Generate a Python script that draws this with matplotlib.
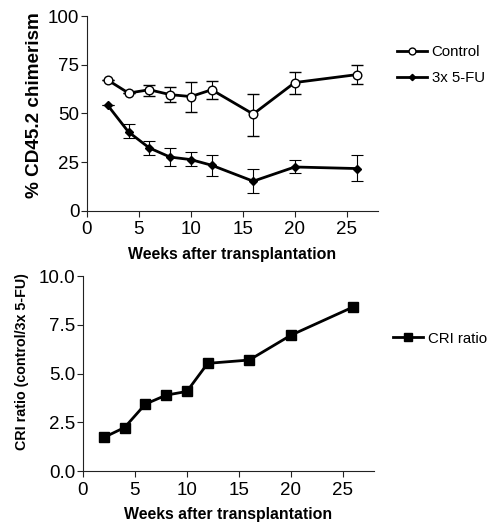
import numpy as np
import matplotlib
matplotlib.use("Agg")
import matplotlib.pyplot as plt

plt.rcParams['font.family'] = ['Liberation Sans', 'DejaVu Sans']

# Chimerism over time (top), CRI ratio (bottom)
weeks = [2, 4, 6, 8, 10, 12, 16, 20, 26]

control = [67.2, 60.5, 62.2, 59.7, 58.7, 62.2, 49.7, 65.9, 70.0]
control_lo = [67.2, 60.5, 59.2, 56.0, 51.0, 57.3, 38.6, 60.0, 65.2]
control_hi = [67.2, 60.5, 64.8, 63.5, 66.2, 66.9, 60.2, 71.5, 74.7]

fu = [54.2, 40.5, 32.3, 27.6, 26.3, 23.4, 15.2, 22.5, 21.7]
fu_lo = [54.2, 37.4, 28.5, 22.9, 22.9, 18.1, 9.2, 19.5, 15.2]
fu_hi = [54.2, 44.5, 35.8, 32.3, 30.2, 28.5, 21.5, 25.9, 28.5]

cri = [1.73, 2.24, 3.44, 3.90, 4.09, 5.53, 5.70, 6.97, 8.42]

fig = plt.figure(figsize=(4.94, 5.23), dpi=100)
ax1 = fig.add_axes([0.176, 0.597, 0.589, 0.372])
ax2 = fig.add_axes([0.168, 0.099, 0.589, 0.373])


def style(ax):
    for s in ["top", "right"]:
        ax.spines[s].set_visible(False)
    for s in ["left", "bottom"]:
        ax.spines[s].set_linewidth(0.8)
        ax.spines[s].set_color("#222222")
    ax.tick_params(direction="out", length=4, width=0.8, labelsize=13.5,
                   color="#222222", pad=1.5)
    ax.tick_params(axis="x", pad=3.5)
    ax.set_xlim(0, 28)
    ax.set_xticks([0, 5, 10, 15, 20, 25])


c = np.array(control)
f = np.array(fu)
ax1.errorbar(weeks, control,
             yerr=[c - np.array(control_lo), np.array(control_hi) - c],
             color="black", lw=2, marker="o", ms=6.2, mfc="white", mec="black",
             mew=1.0, ecolor="black", elinewidth=0.8, capsize=4.5,
             capthick=0.8, label="Control", zorder=3)
ax1.errorbar(weeks, fu,
             yerr=[f - np.array(fu_lo), np.array(fu_hi) - f],
             color="black", lw=2, marker="D", ms=4, mfc="black", mec="black",
             ecolor="black", elinewidth=0.8, capsize=4.5, capthick=0.8,
             label="3x 5-FU", zorder=3)
style(ax1)
ax1.set_ylim(0, 100)
ax1.set_yticks([0, 25, 50, 75, 100])
ax1.set_ylabel("% CD45.2 chimerism", fontsize=13.6, fontweight="bold")
ax1.yaxis.set_label_coords(-0.15, 0.545)
ax1.set_xlabel("Weeks after transplantation", fontsize=11.4, fontweight="bold",
               labelpad=6)
h, l = ax1.get_legend_handles_labels()
h = [x[0] for x in h]
ax1.legend(h, l, loc="center left", bbox_to_anchor=(1.02, 0.75), frameon=False,
           fontsize=10.8, handlelength=2.0, handletextpad=0.3, markerscale=0.8,
           labelspacing=0.8)

ax2.plot(weeks, cri, color="black", lw=2, marker="s", ms=6.5, label="CRI ratio")
style(ax2)
ax2.set_ylim(0, 10)
ax2.set_yticks([0, 2.5, 5, 7.5, 10])
ax2.set_yticklabels(["0.0", "2.5", "5.0", "7.5", "10.0"])
ax2.set_ylabel("CRI ratio (control/3x 5-FU)", fontsize=10.3, fontweight="bold")
ax2.yaxis.set_label_coords(-0.185, 0.56)
ax2.set_xlabel("Weeks after transplantation", fontsize=11.4, fontweight="bold",
               labelpad=6)
ax2.legend(loc="center left", bbox_to_anchor=(1.02, 0.68), frameon=False,
           fontsize=10.8, handlelength=2.0, handletextpad=0.3, markerscale=0.8)

plt.savefig("out.png", dpi=100)
